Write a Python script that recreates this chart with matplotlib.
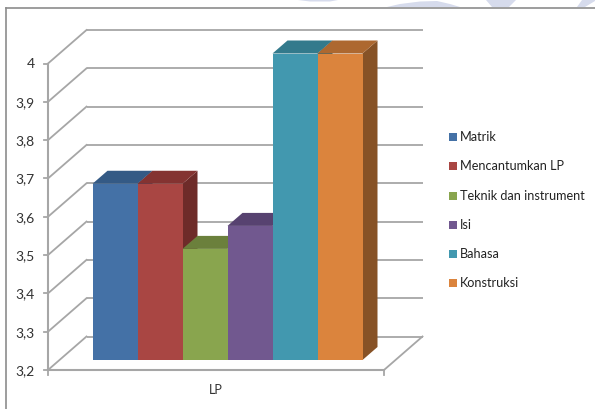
import matplotlib
matplotlib.use("Agg")
import matplotlib.pyplot as plt
from matplotlib.patches import Polygon, Rectangle
from matplotlib.transforms import Affine2D

categories = ["Matrik", "Mencantumkan LP", "Teknik dan instrument", "Isi", "Bahasa", "Konstruksi"]
values = [3.66, 3.66, 3.49, 3.55, 4.0, 4.0]
front_colors = ["#4471A6", "#A94643", "#89A54E", "#71588F", "#4298AF", "#DB843D"]
top_colors = ["#345A85", "#843331", "#6B803C", "#574270", "#337A8C", "#AD6830"]
side_colors = ["#2E4F75", "#6E2B29", "#5A6C33", "#493860", "#2B6676", "#875226"]
ticks = [3.2, 3.3, 3.4, 3.5, 3.6, 3.7, 3.8, 3.9, 4.0]
tick_labels = ["3,2", "3,3", "3,4", "3,5", "3,6", "3,7", "3,8", "3,9", "4"]
group_label = "LP"

W, H = 595, 409
plt.rcParams["font.family"] = ["Lato", "DejaVu Sans"]
fig = plt.figure(figsize=(W / 100, H / 100), dpi=100, facecolor="white")

# Pale watermark fragments above the chart frame
WATERMARK = "#D6DBEC"
watermark_shapes = [
    [(298, 0), (338, 0), (330, 1.5), (310, 1.5)],
    [(387, 7), (400, 4), (420, 1.5), (437, 1), (450, 4), (460, 7)],
    [(486, 0), (516, 0), (509, 7), (492, 7)],
    [(582, 0), (595, 0), (595, 1), (585, 7), (577, 7)],
]
for pts in watermark_shapes:
    fig.add_artist(Polygon([(x / W, 1 - y / H) for x, y in pts], closed=True,
                           transform=fig.transFigure, facecolor=WATERMARK, edgecolor="none"))

# Front plane of the pseudo-3D chart in pixels
L, R, B, T = 48.0, 384.0, 370.0, 63.5
ax = fig.add_axes([L / W, 1 - B / H, (R - L) / W, (B - T) / H])
ax.set_xlim(-0.5 - 33 / 45, 5.5 + 33 / 45)
ax.set_ylim(3.2, 4.0)
ax.axis("off")

GRID = "#A6A6A6"
WALL_DX, WALL_DY = 38.5, 33.5
BAR_DX, BAR_DY = 11.5, 10.0
DEPTH_DX, DEPTH_DY = 15.0, 13.0


def shifted(dx, dy):
    return ax.transData + Affine2D().translate(dx, dy)


xmin, xmax = ax.get_xlim()
# Floor, gridlines and slanted wall edges
for t in ticks:
    ax.plot([xmin, xmax], [t, t], transform=shifted(WALL_DX, WALL_DY),
            color=GRID, lw=1.3, clip_on=False, zorder=1, solid_capstyle="butt")
for t in ticks:
    x0, y0 = ax.transData.transform((xmin, t))
    ax.plot([x0, x0 + WALL_DX], [y0, y0 + WALL_DY], transform=None,
            color=GRID, lw=1.3, clip_on=False, zorder=1)
x1, y1 = ax.transData.transform((xmax, 3.2))
ax.plot([x1, x1 + WALL_DX], [y1, y1 + WALL_DY], transform=None, color=GRID, lw=1.3, clip_on=False, zorder=1)
# Front axis lines and ticks
ax.plot([xmin, xmax], [3.2, 3.2], color=GRID, lw=1.5, clip_on=False, zorder=2)
ax.plot([xmin, xmin], [3.2, 4.0], color=GRID, lw=1.5, clip_on=False, zorder=2)
for xx in (xmin, xmax):
    x0, y0 = ax.transData.transform((xx, 3.2))
    ax.plot([x0, x0], [y0, y0 - 5], transform=None, color=GRID, lw=1.3, clip_on=False, zorder=2)
for t, lab in zip(ticks, tick_labels):
    x0, y0 = ax.transData.transform((xmin, t))
    ax.plot([x0 - 4, x0], [y0, y0], transform=None, color=GRID, lw=1.3, clip_on=False, zorder=2)
    ax.text(x0 - 13, y0 - 1, lab, transform=None, ha="right", va="center",
            fontsize=10, color="#333333", clip_on=False)

# Bars: side and top faces, then front faces
offset = shifted(BAR_DX, BAR_DY)
for i, v in enumerate(values):
    (xa, ya), (xb, yb) = offset.transform([(i - 0.5, 3.2), (i + 0.5, v)])
    side = Polygon([(xb, ya), (xb + DEPTH_DX, ya + DEPTH_DY), (xb + DEPTH_DX, yb + DEPTH_DY), (xb, yb)],
                   closed=True, transform=None, facecolor=side_colors[i], edgecolor="none",
                   zorder=3 + i, clip_on=False)
    top = Polygon([(xa, yb), (xb, yb), (xb + DEPTH_DX, yb + DEPTH_DY), (xa + DEPTH_DX, yb + DEPTH_DY)],
                  closed=True, transform=None, facecolor=top_colors[i], edgecolor="none",
                  zorder=3 + i, clip_on=False)
    ax.add_artist(side)
    ax.add_artist(top)
    side.set_clip_on(False)
    top.set_clip_on(False)
    ax.bar([i], [v - 3.2], bottom=3.2, width=1.0, color=front_colors[i],
           transform=offset, clip_on=False, zorder=3.5 + i)

fig.text(216 / W, 1 - 390.5 / H, group_label, ha="center", va="center", fontsize=9.1, color="#333333")

# Legend
legend_y = [137, 166.5, 196, 225, 254, 283]
for name, col, y in zip(categories, front_colors, legend_y):
    fig.add_artist(Rectangle((449 / W, 1 - (y + 4) / H), 8 / W, 8 / H, transform=fig.transFigure,
                             facecolor=col, edgecolor="none"))
    fig.text(460 / W, 1 - y / H, name, ha="left", va="center", fontsize=9.1, color="#222222")

# Chart frame
fig.add_artist(plt.Line2D([6 / W, 6 / W], [0, 1 - 7.5 / H], transform=fig.transFigure, color="#8C8C8C", lw=1.2))
fig.add_artist(plt.Line2D([6 / W, 1], [1 - 7.5 / H, 1 - 7.5 / H], transform=fig.transFigure, color="#8C8C8C", lw=1.2))

fig.savefig("out.png", dpi=100, facecolor="white")
